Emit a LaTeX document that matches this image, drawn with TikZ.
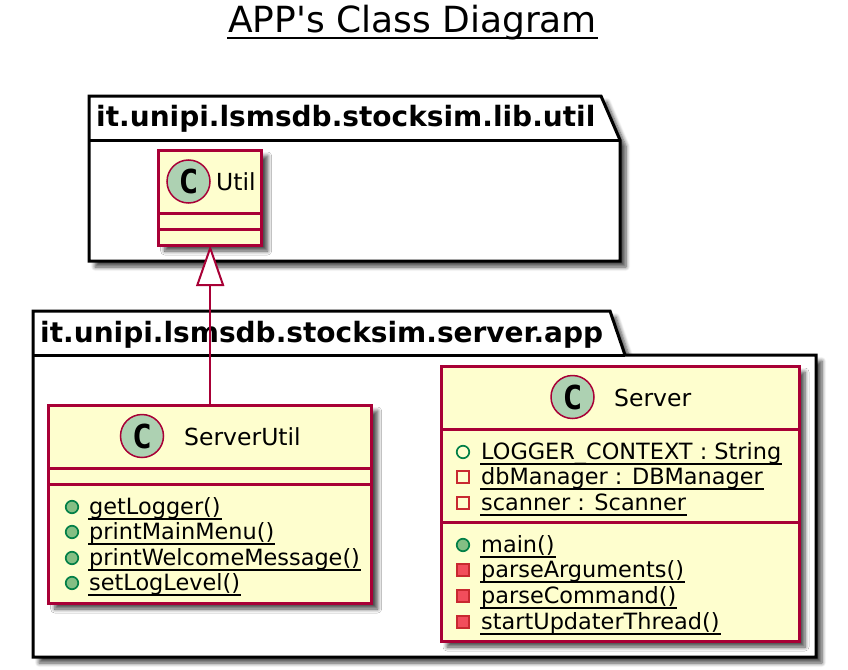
\documentclass[tikz,border=0pt]{standalone}
\usepackage{fontspec}
\setmainfont{DejaVu Sans}
\newfontfamily\titlefont{DejaVu Sans}
\newfontfamily\circlefont{DejaVu Sans Mono}
\usetikzlibrary{arrows.meta,shadows.blur}
\definecolor{umlborder}{HTML}{A80036}
\definecolor{umlfill}{HTML}{FEFECE}
\definecolor{umlcircle}{HTML}{ADD1B2}
\definecolor{publine}{HTML}{038048}
\definecolor{pubfill}{HTML}{84BE84}
\definecolor{privline}{HTML}{C82930}
\definecolor{privfill}{HTML}{F24D5C}
\newcommand{\ulname}[1]{\setbox0\hbox{#1}\rlap{\hspace{-1pt}\rule[-5.8pt]{\dimexpr\wd0+2pt\relax}{1.7pt}}\box0}
\begin{document}
\begin{tikzpicture}[x=1pt,y=-1pt]
\tikzset{
  umlshadow/.style={blur shadow={shadow xshift=6pt,shadow yshift=-6pt,shadow blur steps=6,shadow blur radius=4pt,shadow opacity=70}},
  pkgline/.style={draw=black,line width=3pt,fill=white,line join=miter,umlshadow},
  pkgrule/.style={draw=black,line width=3pt},
  pkglabel/.style={font=\fontsize{28}{32}\selectfont\bfseries,anchor=base west,inner sep=0pt},
  classbox/.style={draw=umlborder,fill=umlfill,line width=3pt,outer sep=0pt,inner sep=0pt,umlshadow},
  classrule/.style={draw=umlborder,line width=3pt},
  classcircle/.style={circle,draw=umlborder,fill=umlcircle,line width=1.5pt,minimum size=43pt,inner sep=0pt,font=\fontsize{33}{33}\selectfont\circlefont\bfseries},
  classname/.style={font=\fontsize{23.5}{28}\selectfont,anchor=base west,inner sep=0pt},
  memberlabel/.style={font=\fontsize{22.4}{26}\selectfont,anchor=base west,inner sep=0pt},
  pubfield/.style={circle,draw=publine,line width=1.7pt,minimum size=12.5pt,inner sep=0pt},
  pubmethod/.style={pubfield,fill=pubfill},
  privfield/.style={rectangle,draw=privline,line width=1.7pt,minimum size=12.5pt,inner sep=0pt},
  privmethod/.style={privfield,fill=privfill},
  extendsline/.style={draw=umlborder,line width=2pt}
}
\useasboundingbox (0,0) rectangle (848,669);
\node[font=\fontsize{36}{40}\selectfont\titlefont,anchor=base,inner sep=0pt] (title) at (412.5,33) {\ulname{APP's Class Diagram}};
\draw[pkgline] (89,140) -- (89,96) -- (601,96) -- (620,140) -- (620,261) -- (89,261) -- cycle;
\draw[pkgrule] (89,140) -- (620,140);
\node[pkglabel] (libpkg) at (96,126) {it.unipi.lsmsdb.stocksim.lib.util};
\draw[pkgline] (33,355) -- (33,311) -- (610,311) -- (625,355) -- (816,355) -- (816,657) -- (33,657) -- cycle;
\draw[pkgrule] (33,355) -- (625,355);
\node[pkglabel] (apppkg) at (40,342) {it.unipi.lsmsdb.stocksim.server.app};
\node[classbox,minimum width=103pt,minimum height=95pt] (Util) at (210.2,197.5) {};
\draw[classrule] (159,213) -- (262,213);
\draw[classrule] (159,229) -- (262,229);
\node[classcircle] (UtilC) at (188.5,181.5) {C};
\node[classname] (UtilName) at (216,190) {Util};
\node[classbox,minimum width=358pt,minimum height=275pt] (Server) at (620,503.5) {};
\draw[classrule] (441,429) -- (799,429);
\draw[classrule] (441,522) -- (799,522);
\node[classcircle] (ServerC) at (572.5,397) {C};
\node[classname] (ServerName) at (614,406) {Server};
\foreach \ry/\rstyle/\rname/\rtext in {
  452/pubfield/a/{LOGGER\_CONTEXT : String},
  477/privfield/b/{dbManager : DBManager},
  503/privfield/c/{scanner : Scanner},
  545/pubmethod/d/{main()},
  570/privmethod/e/{parseArguments()},
  596/privmethod/f/{parseCommand()},
  622/privmethod/g/{startUpdaterThread()}}{
  \node[\rstyle] (Sm\rname) at (463,\ry) {};
  \node[memberlabel] (Sl\rname) at (481,\ry+7) {\ulname{\rtext}};
}
\node[classbox,minimum width=323pt,minimum height=198pt] (ServerUtil) at (210.2,504) {};
\draw[classrule] (49,468) -- (372,468);
\draw[classrule] (49,484) -- (372,484);
\node[classcircle] (ServerUtilC) at (142,436) {C};
\node[classname] (ServerUtilName) at (184,445) {ServerUtil};
\foreach \ry/\rname/\rtext in {
  507/a/{getLogger()},
  532/b/{printMainMenu()},
  558/c/{printWelcomeMessage()},
  583/d/{setLogLevel()}}{
  \node[pubmethod] (Um\rname) at (72,\ry) {};
  \node[memberlabel] (Ul\rname) at (89,\ry+7) {\ulname{\rtext}};
}
\draw[extendsline,-{Triangle[open,length=41pt,width=28pt,fill=white]}] (ServerUtil.north) -- (Util.south);
\end{tikzpicture}
\end{document}
